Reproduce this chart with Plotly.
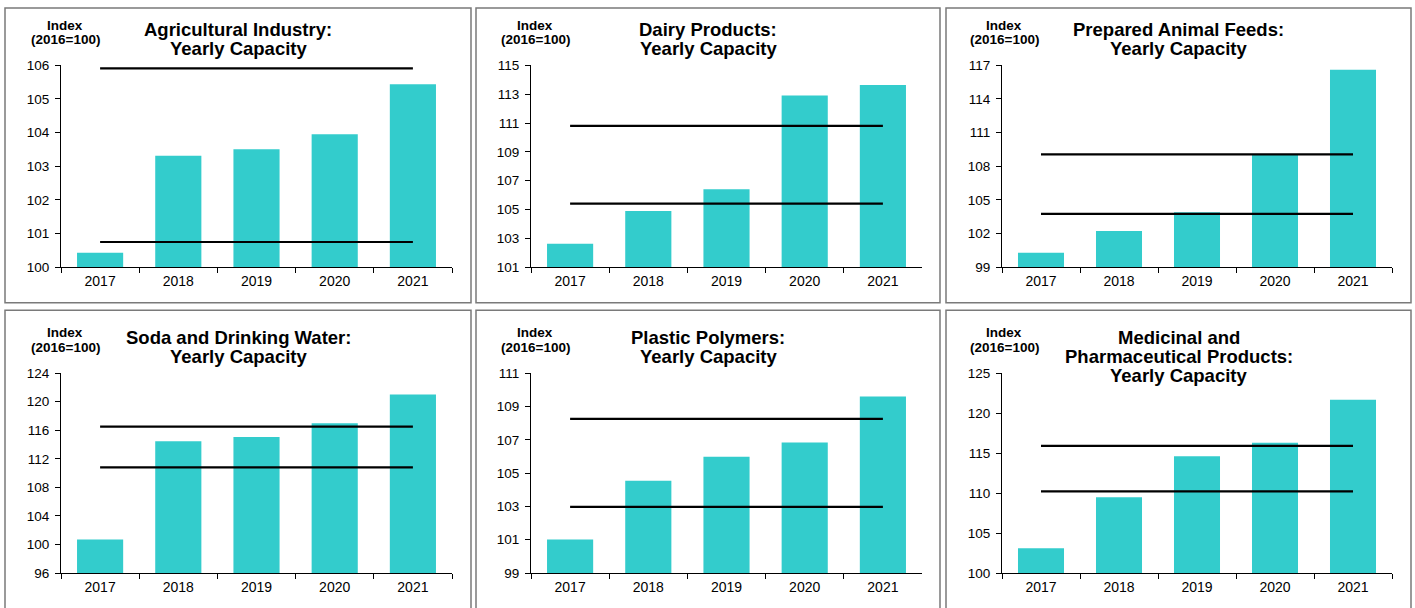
import plotly.graph_objects as go

W, H = 1415, 608

years = ["2017", "2018", "2019", "2020", "2021"]

titles = [
    ["Agricultural Industry:", "Yearly Capacity"],
    ["Dairy Products:", "Yearly Capacity"],
    ["Prepared Animal Feeds:", "Yearly Capacity"],
    ["Soda and Drinking Water:", "Yearly Capacity"],
    ["Plastic Polymers:", "Yearly Capacity"],
    ["Medicinal and", "Pharmaceutical Products:", "Yearly Capacity"],
]

agri = [100.43, 103.31, 103.51, 103.95, 105.44]
agri_lines = [105.91, 100.75]
dairy = [102.63, 104.90, 106.41, 112.91, 113.63]
dairy_lines = [110.80, 105.41]
feeds = [100.28, 102.22, 103.90, 109.06, 116.61]
feeds_lines = [109.06, 103.75]
soda = [100.70, 114.47, 115.07, 116.98, 121.02]
soda_lines = [116.51, 110.79]
plastic = [101.01, 104.54, 105.98, 106.83, 109.60]
plastic_lines = [108.25, 102.97]
med = [103.11, 109.47, 114.62, 116.28, 121.68]
med_lines = [115.90, 110.22]

series = [agri, dairy, feeds, soda, plastic, med]
line_sets = [agri_lines, dairy_lines, feeds_lines, soda_lines, plastic_lines, med_lines]

y_ranges = [[100, 106], [101, 115], [99, 117], [96, 124], [99, 111], [100, 125]]
y_dticks = [1, 2, 3, 4, 2, 5]

y_label = ["Index", "(2016=100)"]

BAR = "#33CCCC"
FONT = "Liberation Sans"

# vertical correction measured for the photographing step
V_SCALE, V_OFF = 0.976, 6.6


def px(x):
    return x / W


def py(t):
    p = (t - V_OFF) / V_SCALE
    return 1 - p / H


# target geometry in picture pixels
plot_x = [(61, 452), (531, 922), (1002, 1392)]
plot_y = [(65, 267), (373, 573)]
border_x = [(5, 471), (476, 940), (946, 1411)]
border_y = [(7.5, 302.5), (310, 630)]
title_y = [[29, 48], [337, 356]]
index_y = [[25, 39], [332, 347]]
index_x = [65, 535, 1004]

fig = go.Figure()
layout = dict(
    width=W, height=H, margin=dict(l=0, r=0, t=0, b=0), autosize=False,
    paper_bgcolor="white", plot_bgcolor="white", showlegend=False,
    bargap=0.41, font=dict(family=FONT, color="black", size=14),
)
annotations = []
shapes = []

for i in range(6):
    r, c = divmod(i, 3)
    n = i + 1
    xa = "x" if n == 1 else f"x{n}"
    ya = "y" if n == 1 else f"y{n}"
    fig.add_trace(go.Bar(x=years, y=series[i], marker=dict(color=BAR, line=dict(width=0)),
                         xaxis=xa, yaxis=ya, hoverinfo="x+y"))
    for v in line_sets[i]:
        fig.add_trace(go.Scatter(x=[years[0], years[-1]], y=[v, v], mode="lines",
                                 line=dict(color="black", width=2.2),
                                 xaxis=xa, yaxis=ya, hoverinfo="y"))
    x0, x1 = plot_x[c]
    y0, y1 = plot_y[r]
    layout["xaxis" if n == 1 else f"xaxis{n}"] = dict(
        domain=[px(x0), px(x1)], anchor=ya, type="category",
        range=[-0.5, 4.5], showline=True, linecolor="black", linewidth=1,
        ticks="outside", tickson="boundaries", ticklen=5, tickcolor="black",
        showgrid=False, zeroline=False, tickfont=dict(size=14, family=FONT),
        ticklabelstandoff=1, fixedrange=True,
    )
    layout["yaxis" if n == 1 else f"yaxis{n}"] = dict(
        domain=[py(y1), py(y0)], anchor=xa, range=y_ranges[i], dtick=y_dticks[i],
        tick0=y_ranges[i][0], showline=True, linecolor="black", linewidth=1,
        ticks="outside", ticklen=5, tickcolor="black", showgrid=False,
        zeroline=False, tickfont=dict(size=13.5, family=FONT),
        ticklabelstandoff=3, fixedrange=True,
    )
    # border
    bx0, bx1 = border_x[c]
    by0, by1 = border_y[r]
    shapes.append(dict(type="rect", xref="paper", yref="paper",
                       x0=px(bx0), x1=px(bx1), y0=py(by1), y1=min(py(by0), 0.9985),
                       line=dict(color="#7a7a7a", width=1.5), fillcolor="rgba(0,0,0,0)"))
    # title
    cx = (bx0 + bx1) / 2
    for k, t in enumerate(titles[i]):
        yy = title_y[r][0] + k * 19
        annotations.append(dict(text=f"<b>{t}</b>", xref="paper", yref="paper",
                                x=px(cx), y=py(yy), xanchor="center", yanchor="middle",
                                showarrow=False, font=dict(size=18.5, family=FONT, color="black")))
    # index label
    for k, t in enumerate(y_label):
        annotations.append(dict(text=f"<b>{t}</b>", xref="paper", yref="paper",
                                x=px(index_x[c]), y=py(index_y[r][k]), xanchor="center",
                                yanchor="middle", showarrow=False,
                                font=dict(size=13.5, family=FONT, color="black")))

layout["annotations"] = annotations
layout["shapes"] = shapes
fig.update_layout(**layout)
fig.write_html(
    "out.html",
    config={"displayModeBar": False, "responsive": False},
    post_script=(
        "document.documentElement.style.margin='0';"
        "document.body.style.margin='0';document.body.style.padding='0';"
        "document.documentElement.style.overflow='hidden';document.body.style.overflow='hidden';"
        "var d=document.getElementById('{plot_id}');"
        "d.style.position='fixed';d.style.top='0px';d.style.left='0px';"
    ),
)
